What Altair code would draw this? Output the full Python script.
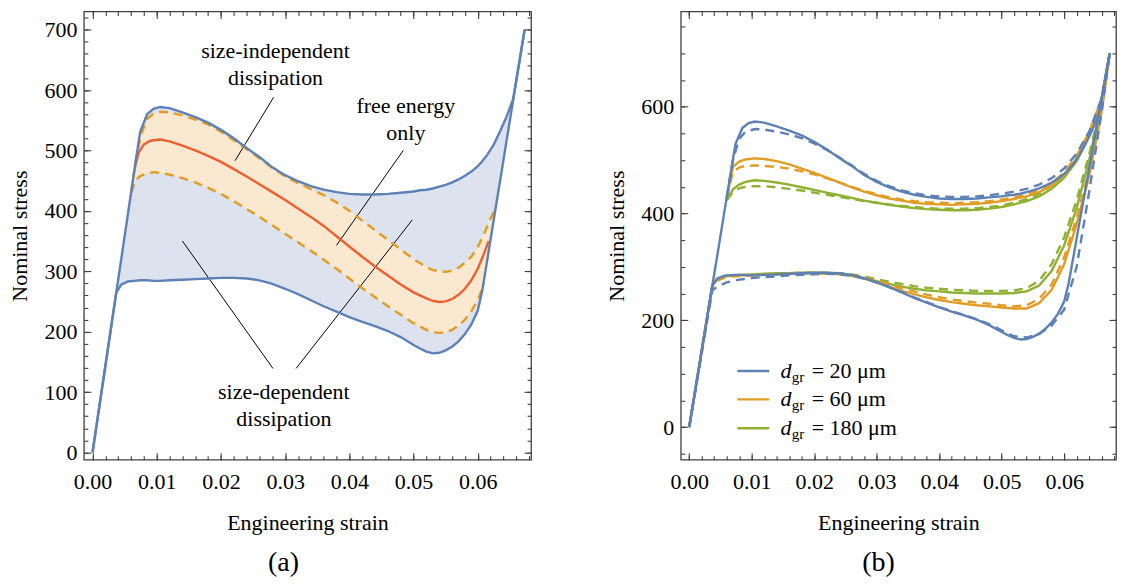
import altair as alt
import pandas as pd

FONT = "Liberation Serif, Times New Roman, DejaVu Serif, serif"
FS = 22
BLUE = "#5e81b5"
ORANGE = "#e19c24"
RED = "#ec5f2e"
GREEN = "#8fb032"
BLUE_FILL = "#dde3ee"
ORANGE_FILL = "#fbe8d1"
FRAME = "#404040"

# ---------------- panel (a) data ----------------
strain_a = [0.0, 0.0037, 0.0045, 0.0055, 0.0065, 0.0074, 0.0085, 0.0095, 0.0105, 0.012,
            0.014, 0.016, 0.018, 0.020, 0.022, 0.024, 0.026, 0.028, 0.030, 0.032,
            0.034, 0.036, 0.038, 0.040, 0.042, 0.044, 0.046, 0.048, 0.050, 0.051,
            0.052, 0.053, 0.054, 0.055, 0.056, 0.057, 0.058, 0.059, 0.060, 0.0607,
            0.0615, 0.0625, 0.0635, 0.0645, 0.0655, 0.0665, 0.0673]
size_indep_upper = [0, 265, 322, 394, 466, 530, 560, 569, 572, 570,
                    563, 555, 546, 534, 520, 504, 489, 472, 459, 449,
                    441, 435, 431, 428, 427, 427, 428, 430, 432, 434,
                    435, 437, 440, 443, 447, 452, 458, 465, 474, 482,
                    493, 510, 532, 556, 585, 648, 700]
size_dep_lower = [0, 265, 278, 283, 284, 285, 285, 284, 284, 285,
                  286, 287, 288, 289, 289, 288, 285, 279, 271, 262,
                  252, 242, 233, 224, 216, 209, 201, 191, 178, 172,
                  167, 164, 165, 169, 175, 184, 196, 212, 235, 268,
                  320, 386, 451, 517, 582, 648, 700]

strain_band = [0.006, 0.0068, 0.0075, 0.0085, 0.0095, 0.0105, 0.012, 0.014, 0.016, 0.018,
               0.020, 0.022, 0.024, 0.026, 0.028, 0.030, 0.032, 0.034, 0.036, 0.038,
               0.040, 0.042, 0.044, 0.046, 0.048, 0.050, 0.052, 0.053, 0.054, 0.055,
               0.056, 0.057, 0.058, 0.059, 0.060, 0.061, 0.0617, 0.0622, 0.0628]
band_upper = [430, 487, 524, 552, 561, 564, 563, 558, 551, 543,
              531, 517, 502, 487, 471, 457, 446, 436, 426, 414,
              400, 384, 368, 352, 336, 320, 307, 302, 300, 299,
              301, 306, 314, 324, 340, 362, 380, 392, 404]
band_lower = [430, 452, 458, 462, 464, 463, 460, 454, 447, 438,
              428, 416, 403, 390, 376, 362, 348, 334, 319, 304,
              288, 272, 257, 242, 228, 214, 203, 199, 198, 199,
              203, 210, 220, 234, 252, 280, None, None, None]
band_fill_tail = [330, 364, 404]

strain_free = [0.0066, 0.0072, 0.008, 0.009, 0.0105, 0.012, 0.014, 0.016, 0.018, 0.020,
               0.022, 0.024, 0.026, 0.028, 0.030, 0.032, 0.034, 0.036, 0.038, 0.040,
               0.042, 0.044, 0.046, 0.048, 0.050, 0.052, 0.053, 0.054, 0.055, 0.056,
               0.057, 0.058, 0.059, 0.060, 0.061, 0.0617]
free_energy = [472, 497, 510, 516, 518, 515, 508, 500, 491, 481,
               469, 457, 444, 431, 418, 404, 390, 375, 358, 341,
               324, 308, 293, 278, 265, 255, 251, 249, 250, 254,
               261, 271, 285, 304, 330, 350]

ann_text = ["size-independent", "dissipation", "free energy", "only",
            "size-dependent", "dissipation"]
ann_strain = [0.0285, 0.0285, 0.0488, 0.0488, 0.0298, 0.0298]
ann_stress = [664, 620, 574, 529, 100, 56]

ptr_s1 = [0.0282, 0.0484, 0.0140, 0.0498]
ptr_v1 = [588, 500, 350, 385]
ptr_s2 = [0.0222, 0.0380, 0.0281, 0.0317]
ptr_v2 = [483, 343, 139, 139]

# ---------------- panel (b) data ----------------
strain_bu = [0.006, 0.007, 0.008, 0.009, 0.0105, 0.012, 0.014, 0.016, 0.018, 0.020,
             0.022, 0.024, 0.026, 0.028, 0.030, 0.032, 0.034, 0.036, 0.038, 0.040,
             0.042, 0.044, 0.046, 0.048, 0.050, 0.052, 0.054, 0.056, 0.058, 0.060,
             0.062, 0.064, 0.066, 0.0673]
blue_dash_up = [430, 500, 540, 553, 558, 557, 553, 548, 541, 531,
                519, 505, 490, 474, 461, 451, 443, 438, 434, 432,
                431, 431, 432, 434, 437, 441, 446, 454, 466, 484,
                512, 553, 615, 700]
orange_solid_up = [430, 487, 497, 501, 503, 502, 498, 492, 484, 476,
                   467, 458, 449, 441, 434, 428, 424, 420, 418, 417,
                   416, 417, 418, 420, 423, 427, 432, 440, 452, 472,
                   503, 548, 612, 700]
orange_dash_up = [430, 478, 486, 489, 490, 489, 487, 484, 479, 473,
                  466, 458, 450, 442, 436, 430, 426, 423, 421, 420,
                  419, 420, 421, 423, 426, 430, 436, 444, 457, 477,
                  508, 552, 614, 700]
green_solid_up = [425, 445, 454, 459, 462, 461, 458, 454, 449, 444,
                  439, 434, 429, 424, 420, 416, 413, 410, 408, 407,
                  406, 406, 407, 409, 412, 417, 423, 432, 446, 467,
                  498, 545, 610, 700]
green_dash_up = [425, 440, 447, 450, 451, 451, 449, 446, 443, 439,
                 435, 431, 427, 423, 420, 417, 414, 412, 410, 409,
                 409, 409, 410, 412, 415, 420, 427, 437, 452, 473,
                 505, 550, 613, 700]

strain_bl = [0.0, 0.0037, 0.0045, 0.006, 0.008, 0.010, 0.012, 0.014, 0.016, 0.018,
             0.020, 0.022, 0.024, 0.026, 0.028, 0.030, 0.032, 0.034, 0.036, 0.038,
             0.040, 0.042, 0.044, 0.046, 0.048, 0.050, 0.052, 0.054, 0.056, 0.058,
             0.060, 0.062, 0.064, 0.066, 0.0673]
blue_dash_lo = [0, 256, 263, 271, 276, 279, 281, 282, 284, 285,
                286, 287, 286, 284, 278, 271, 262, 253, 243, 234,
                225, 217, 210, 202, 193, 181, 170, 168, 174, 190,
                220, 300, 440, 590, 700]
orange_solid_lo = [0, 265, 277, 283, 284, 284, 285, 286, 287, 288,
                   288, 288, 287, 284, 278, 271, 263, 255, 249, 243,
                   238, 234, 231, 228, 226, 224, 222, 222, 232, 257,
                   305, 380, 470, 590, 700]
orange_dash_lo = [0, 262, 274, 281, 283, 284, 285, 286, 287, 288,
                  288, 288, 287, 285, 280, 274, 267, 260, 254, 248,
                  243, 239, 236, 233, 231, 228, 226, 228, 240, 267,
                  318, 392, 480, 595, 700]
green_solid_lo = [0, 265, 278, 284, 285, 286, 287, 288, 288, 289,
                  289, 288, 286, 283, 278, 273, 268, 263, 259, 256,
                  254, 252, 251, 250, 250, 250, 251, 254, 265, 292,
                  340, 410, 500, 605, 700]
green_dash_lo = [0, 262, 275, 282, 284, 285, 286, 287, 288, 289,
                 289, 289, 288, 286, 282, 277, 272, 268, 264, 261,
                 259, 257, 256, 255, 255, 255, 256, 260, 274, 305,
                 355, 425, 510, 610, 700]

legend_sizes = ["= 20 μm", "= 60 μm", "= 180 μm"]
legend_colors = [BLUE, ORANGE, GREEN]

# ---------------- layout constants ----------------
XDOM = [-0.00135, 0.0683]
YDOM_A = [-12, 730]
YDOM_B = [-61, 778]
W_A, H = 448, 449
W_B = 436
LEG_Y = [105, 52, -2]
LEG_X1, LEG_X2 = 0.0077, 0.0128
LEG_D, LEG_GR, LEG_TXT = 0.0146, 0.0164, 0.0196

x_major = [round(i * 0.01, 2) for i in range(7)]
x_minor = [round(i * 0.002, 3) for i in range(35)]


def xs(field="s", axis=None):
    return alt.X(f"{field}:Q", scale=alt.Scale(domain=XDOM, nice=False, zero=False), axis=axis)


def ys(field, dom, axis=None):
    return alt.Y(f"{field}:Q", scale=alt.Scale(domain=dom, nice=False, zero=False), axis=axis)


def axis_layers(df, field, dom, y_major, y_minor):
    common = dict(domain=False, grid=False, tickColor=FRAME, tickWidth=1.1)
    lab = dict(labelFont=FONT, labelFontSize=FS, labelColor="black",
               titleFont=FONT, titleFontSize=FS, titleFontWeight="normal", titleColor="black")
    specs = [
        (alt.Axis(orient="bottom", values=x_major, tickSize=7, offset=-7, format=".2f",
                  labelPadding=12, title="Engineering strain", titlePadding=20, **lab, **common),
         alt.Axis(orient="left", values=y_major, tickSize=7, offset=-7, format="d",
                  labelPadding=7, title="Nominal stress", titlePadding=12, **lab, **common)),
        (alt.Axis(orient="bottom", values=x_minor, tickSize=4, offset=-4, labels=False, title=None, **common),
         alt.Axis(orient="left", values=y_minor, tickSize=4, offset=-4, labels=False, title=None, **common)),
        (alt.Axis(orient="top", values=x_major, tickSize=7, offset=-7, labels=False, title=None, **common),
         alt.Axis(orient="right", values=y_major, tickSize=7, offset=-7, labels=False, title=None, **common)),
        (alt.Axis(orient="top", values=x_minor, tickSize=4, offset=-4, labels=False, title=None, **common),
         alt.Axis(orient="right", values=y_minor, tickSize=4, offset=-4, labels=False, title=None, **common)),
    ]
    out = []
    for ax, ay in specs:
        out.append(alt.Chart(df).mark_line(opacity=0).encode(x=xs(axis=ax), y=ys(field, dom, axis=ay)))
    return out


# ---------------- panel (a) ----------------
df_blue = pd.DataFrame({"s": strain_a, "up": size_indep_upper, "lo": size_dep_lower})
fill_lo = band_lower[:len(band_lower) - len(band_fill_tail)] + band_fill_tail
df_band = pd.DataFrame({"s": strain_band, "up": band_upper, "lo": band_lower, "flo": fill_lo})
df_free = pd.DataFrame({"s": strain_free, "v": free_energy})
df_ann = pd.DataFrame({"s": ann_strain, "v": ann_stress, "t": ann_text})
df_ptr = pd.DataFrame({"s": ptr_s1, "v": ptr_v1, "s2": ptr_s2, "v2": ptr_v2})

LW = 2.4
DASH = [9, 6]

a_layers = [
    alt.Chart(df_blue).mark_area(color=BLUE_FILL, opacity=1).encode(
        x=xs(), y=ys("lo", YDOM_A), y2="up"),
    alt.Chart(df_band).mark_area(color=ORANGE_FILL, opacity=1).encode(
        x=xs(), y=ys("flo", YDOM_A), y2="up"),
    alt.Chart(df_ptr).mark_rule(color="black", strokeWidth=1).encode(
        x=xs(), y=ys("v", YDOM_A), x2="s2", y2="v2"),
    alt.Chart(df_band).mark_line(color=ORANGE, strokeWidth=LW, strokeDash=DASH).encode(
        x=xs(), y=ys("up", YDOM_A)),
    alt.Chart(df_band).mark_line(color=ORANGE, strokeWidth=LW, strokeDash=DASH).encode(
        x=xs(), y=ys("lo", YDOM_A)),
    alt.Chart(df_free).mark_line(color=RED, strokeWidth=LW).encode(
        x=xs(), y=ys("v", YDOM_A)),
    alt.Chart(df_blue).mark_line(color=BLUE, strokeWidth=LW).encode(
        x=xs(), y=ys("up", YDOM_A)),
    alt.Chart(df_blue).mark_line(color=BLUE, strokeWidth=LW).encode(
        x=xs(), y=ys("lo", YDOM_A)),
    alt.Chart(df_ann).mark_text(font=FONT, fontSize=FS, color="black", align="center",
                                baseline="middle").encode(x=xs(), y=ys("v", YDOM_A), text="t:N"),
]
a_layers += axis_layers(df_blue, "up", YDOM_A, list(range(0, 701, 100)), list(range(0, 721, 20)))

panel_a = alt.layer(*a_layers).resolve_axis(x="independent", y="independent").properties(
    width=W_A, height=H,
    title=alt.TitleParams(text="(a)", orient="bottom", font=FONT, fontSize=28, fontWeight="normal",
                          color="black", frame="group", anchor="middle", dx=-24, offset=15))

# ---------------- panel (b) ----------------
rows = []
def add(curve, color, style, strains, vals):
    for s, v in zip(strains, vals):
        rows.append({"curve": curve, "c": color, "style": style, "s": s, "v": v})

add("bsu", BLUE, "solid", strain_a, size_indep_upper)
add("bsl", BLUE, "solid", strain_a, size_dep_lower)
add("bdu", BLUE, "dash", strain_bu, blue_dash_up)
add("bdl", BLUE, "dash", strain_bl, blue_dash_lo)
add("osu", ORANGE, "solid", strain_bu, orange_solid_up)
add("osl", ORANGE, "solid", strain_bl, orange_solid_lo)
add("odu", ORANGE, "dash", strain_bu, orange_dash_up)
add("odl", ORANGE, "dash", strain_bl, orange_dash_lo)
add("gsu", GREEN, "solid", strain_bu, green_solid_up)
add("gsl", GREEN, "solid", strain_bl, green_solid_lo)
add("gdu", GREEN, "dash", strain_bu, green_dash_up)
add("gdl", GREEN, "dash", strain_bl, green_dash_lo)
df_b = pd.DataFrame(rows)

order = ["gsu", "gsl", "gdu", "gdl", "osu", "osl", "odu", "odl", "bsu", "bsl", "bdu", "bdl"]
b_layers = []
for cid in order:
    sub = df_b[df_b.curve == cid]
    style = sub["style"].iloc[0]
    color = sub["c"].iloc[0]
    if style == "dash":
        mk = alt.Chart(sub).mark_line(color=color, strokeWidth=LW, strokeDash=DASH)
    else:
        mk = alt.Chart(sub).mark_line(color=color, strokeWidth=LW)
    b_layers.append(mk.encode(x=xs(), y=ys("v", YDOM_B)))

df_leg = pd.DataFrame({"lab": legend_sizes, "c": legend_colors, "v": LEG_Y,
                       "x1": [LEG_X1] * 3, "x2": [LEG_X2] * 3, "xd": [LEG_D] * 3,
                       "xg": [LEG_GR] * 3, "xt": [LEG_TXT] * 3})
b_layers += [
    alt.Chart(df_leg).mark_rule(strokeWidth=LW).encode(
        x=xs("x1"), x2="x2", y=ys("v", YDOM_B), color=alt.Color("c:N", scale=None)),
    alt.Chart(df_leg).mark_text(font=FONT, fontSize=FS, fontStyle="italic", align="left",
                                baseline="middle", color="black").encode(
        x=xs("xd"), y=ys("v", YDOM_B), text=alt.value("d")),
    alt.Chart(df_leg).mark_text(font=FONT, fontSize=15, align="left", baseline="middle",
                                color="black", dy=6).encode(
        x=xs("xg"), y=ys("v", YDOM_B), text=alt.value("gr")),
    alt.Chart(df_leg).mark_text(font=FONT, fontSize=FS, align="left", baseline="middle",
                                color="black").encode(
        x=xs("xt"), y=ys("v", YDOM_B), text="lab:N"),
]
df_bax = df_b[df_b.curve == "bsu"]
b_layers += axis_layers(df_bax, "v", YDOM_B, [0, 200, 400, 600], list(range(-50, 776, 50)))

panel_b = alt.layer(*b_layers).resolve_axis(x="independent", y="independent").properties(
    width=W_B, height=H,
    title=alt.TitleParams(text="(b)", orient="bottom", font=FONT, fontSize=28, fontWeight="normal",
                          color="black", frame="group", anchor="middle", dx=-20, offset=15))

chart = alt.hconcat(panel_a, panel_b, spacing=72).properties(
    padding={"left": 0, "top": 1, "right": 0, "bottom": 0}
).configure_view(stroke=FRAME, strokeWidth=1.3)

chart.save("out.html", embed_options={"renderer": "svg", "actions": False})
